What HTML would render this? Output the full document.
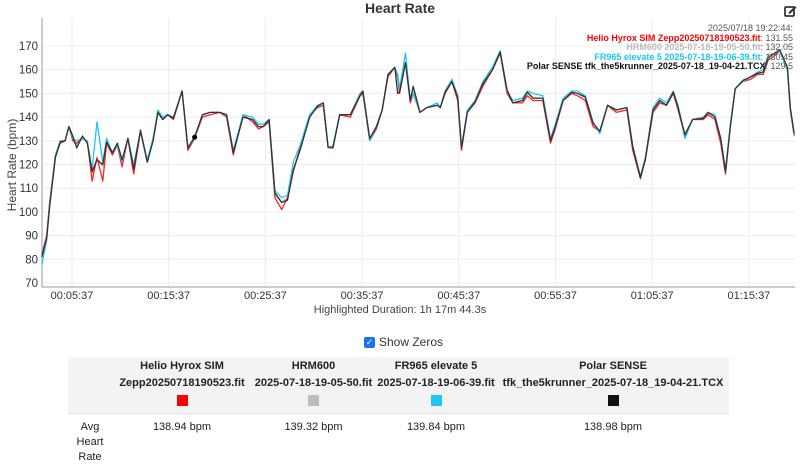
<!DOCTYPE html>
<html><head><meta charset="utf-8">
<style>
body{margin:0;width:800px;height:472px;background:#fff;font-family:"Liberation Sans",sans-serif;overflow:hidden;position:relative}
.abs{position:absolute}
table{border-collapse:collapse}
</style></head>
<body>
<svg class="abs" style="left:0;top:0" width="800" height="320">
<text x="400" y="13" text-anchor="middle" font-size="14" font-weight="bold" fill="#333">Heart Rate</text>
<g transform="translate(784,4)">
<rect x="1" y="3" width="9" height="9" fill="none" stroke="#333" stroke-width="1.8" rx="1"/>
<path d="M5 8 L11 2 L12.5 3.5 L6.5 9.5 L4.5 10 Z" fill="#333"/>
</g>
<g id="grid"></g>
<g id="axes"></g>
<g id="series"></g>
<text transform="translate(16,165) rotate(-90)" text-anchor="middle" font-size="12" fill="#444">Heart Rate (bpm)</text>
<text x="400" y="313" text-anchor="middle" font-size="11" fill="#444">Highlighted Duration: 1h 17m 44.3s</text>
<g font-size="9" text-anchor="end">
<text x="793" y="31" fill="#555">2025/07/18 19:22:44:</text>
<text x="793" y="41"><tspan fill="#f00" font-weight="bold">Helio Hyrox SIM Zepp20250718190523.fit</tspan><tspan fill="#555">: 131.55</tspan></text>
<text x="793" y="50"><tspan fill="#bbb" font-weight="bold">HRM600 2025-07-18-19-05-50.fit</tspan><tspan fill="#555">: 132.05</tspan></text>
<text x="793" y="60"><tspan fill="#1cc8f0" font-weight="bold">FR965 elevate 5 2025-07-18-19-06-39.fit</tspan><tspan fill="#555">: 130.45</tspan></text>
<text x="793" y="69"><tspan fill="#111" font-weight="bold">Polar SENSE tfk_the5krunner_2025-07-18_19-04-21.TCX</tspan><tspan fill="#555">: 129.5</tspan></text>
</g>
</svg>
<div class="abs" style="left:364px;top:335px;font-size:12px;color:#333;display:flex;align-items:center">
<span style="width:11px;height:11px;background:#1a73e8;border-radius:2px;display:inline-block;color:#fff;font-size:9px;line-height:11px;text-align:center;margin-right:4px">✓</span>Show Zeros</div>
<table class="abs" style="left:68px;top:357px;width:661px;font-size:11px;color:#222">
<tr style="background:#f3f3f3;height:55px;border-bottom:1px solid #e4e4e4;font-weight:bold;text-align:center;line-height:17px">
<td style="width:42px"></td>
<td style="width:138px">Helio Hyrox SIM<br>Zepp20250718190523.fit<br><span style="display:inline-block;width:11px;height:11px;background:#f00;margin-top:3px"></span></td>
<td style="width:121px">HRM600<br>2025-07-18-19-05-50.fit<br><span style="display:inline-block;width:11px;height:11px;background:#c0bac0;margin-top:3px"></span></td>
<td style="width:120px">FR965 elevate 5<br>2025-07-18-19-06-39.fit<br><span style="display:inline-block;width:11px;height:11px;background:#1cc8f0;margin-top:3px"></span></td>
<td>Polar SENSE<br>tfk_the5krunner_2025-07-18_19-04-21.TCX<br><span style="display:inline-block;width:11px;height:11px;background:#111;margin-top:3px"></span></td>
</tr>
<tr style="text-align:center;vertical-align:top;line-height:15px">
<td style="padding-top:6px">Avg<br>Heart<br>Rate</td>
<td style="padding-top:6px">138.94 bpm</td>
<td style="padding-top:6px">139.32 bpm</td>
<td style="padding-top:6px">139.84 bpm</td>
<td style="padding-top:6px">138.98 bpm</td>
</tr>
</table>
<script>
const T=[2.5,3.0,3.3,3.9,4.4,4.9,5.3,5.7,6.1,6.7,7.2,7.7,8.2,8.8,9.2,9.8,10.3,10.8,11.4,12.0,12.7,13.4,14.0,14.5,15.0,15.5,16.1,17.0,17.6,18.3,19.1,19.9,20.9,21.6,22.3,23.3,24.3,24.9,25.4,26.0,26.6,27.3,27.9,28.5,29.2,30.2,31.0,31.6,32.1,32.6,33.3,34.4,35.4,35.7,36.4,37.1,37.7,38.3,39.0,39.3,39.5,40.1,40.6,40.9,41.6,42.3,43.4,43.7,44.2,44.9,45.5,45.9,46.5,47.3,48.1,49.1,49.9,50.6,51.2,52.2,52.7,53.3,54.3,55.1,55.6,56.4,57.3,57.9,58.7,59.5,60.2,61.0,61.9,63.0,63.6,64.4,64.9,65.7,66.4,67.1,67.8,68.3,69.0,69.8,70.9,71.4,72.1,72.7,73.2,73.7,74.2,75.0,75.8,76.5,77.1,77.6,78.3,78.8,79.6,79.9,80.3];
const polar=[81,89,102,123,129.5,130,136,132,127,132,129,117,122,120,129.5,125,129,122,131,118,134.5,121,130,142,139,141,139.5,151,127,131.5,141,142,142,141,125,140,139,136,136,139,108,104,105,117.7,126,140,144.6,146,127.4,127,141,141,149,151,131,136,143,158,161,150,150.5,163,147,153,142,144,145,144,150.5,155,148.5,127,142,146.5,154,160,167.5,151.5,146,147,150.5,148,148,130,136,147,150.5,150,148.5,137.5,134,145,143,144,127.5,114.5,122,143,147,145,150.5,144,132.5,139,139.5,142,140,131,117,136,152,155.5,157,158.5,159,165,167,168.5,161,144,133];
const helio=[82,90,104,124,129,130,136,130,129,131,130,113,123,113,129,124,128,119,131,116,134,121,131,142,139,141,139,151,126,131,140,141,142,140,124,141,138,135,136,138,106,101,106,117,127,141,144,145,127,127,141,140,149,150,130,135,143,157,161,157,150,163,146,150,142,144,145,144,150,155,147,126,142,146,153,160,167,150,146,146,149,147,147,129,135,147,150,149,147,136,134,145,142,143,126,114,122,142,146,145,150,143,132,139,139,141,139,129,116,137,152,155,156,158,158,164,166,168,160,143,132];
const hrm=[81,89,103,123,129,130,136,131,128,132,129,116,122,119,129,124,129,121,131,118,134,121,130,142,139,141,139.5,151,127,132,141,142,142,141,125,140,139,136,136,139,107,104,106,118,126,140,145,146,127,127,141,141,149,151,131,136,143,158,161,156,151,163,147,152,142,144,145,144,151,155,148,127,142,146,154,160,167,151,146,147,150,148,148,130,136,147,150,150,148,137,134,145,143,144,127,115,122,143,147,145,150,144,133,139,139,142,140,131,117,136,152,155,157,158,159,165,167,168,161,144,133];
const fr965=[78,88,103,124,130,130,136,131,130,131,130,118,138,121,131,125,128,121,131,120,134,122,131,143,140,141,140,151,127,131,141,142,142,141,126,141,140,137,137,139,109,106,107,121,128,141,145,146,127,128,141,141,150,151,130,136,143,158,161,158,152,167,147,150,142,144,146,144,151,156,149,127,143,147,155,161,168,151,147,148,151,150,149,131,137,148,151,151,149,138,133,145,143,144,128,115,123,144,148,146,151,145,131,139,140,142,141,131,118,137,152,155,157,159,160,166,167,168,160,143,132];
const yTicks=[70,80,90,100,110,120,130,140,150,160,170];
const xTicks=[5.617,15.617,25.617,35.617,45.617,55.617,65.617,75.617];
const xLabels=["00:05:37","00:15:37","00:25:37","00:35:37","00:45:37","00:55:37","01:05:37","01:15:37"];
const L=42,R=795,TOP=18,BOT=287;
const xs=t=>72+(t-5.617)*9.67;
const ys=v=>46+(170-v)*2.37;
const NS="http://www.w3.org/2000/svg";
function mk(tag,attrs,parent){const e=document.createElementNS(NS,tag);for(const k in attrs)e.setAttribute(k,attrs[k]);parent.appendChild(e);return e;}
const grid=document.getElementById('grid'),axes=document.getElementById('axes'),ser=document.getElementById('series');
yTicks.forEach(v=>{
 const g=mk('line',{x1:L,x2:R,y1:ys(v),y2:ys(v),stroke:'#ececec'},grid);
 
 
 const t=mk('text',{x:L-4,y:ys(v)+4,'text-anchor':'end','font-size':'11.5',fill:'#333'},axes);
 t.textContent=v;
 
 
});
xTicks.forEach((m,i)=>{
 const g=mk('line',{x1:xs(m),x2:xs(m),y1:TOP,y2:BOT,stroke:'#ececec'},grid);
 
 
 const t=mk('text',{x:xs(m),y:BOT+12,'text-anchor':'middle','font-size':'11',fill:'#333'},axes);
 t.textContent=xLabels[i];
 
 
});
const ya=mk('line',{x1:L,x2:L,y1:TOP,y2:BOT,stroke:'#bbb','stroke-width':1.5},axes);


const xa=mk('line',{x1:L,x2:R,y1:BOT,y2:BOT,stroke:'#bbb','stroke-width':1.5},axes);


const defs=[[hrm,'#c8c4c8','line-hrm600'],[helio,'#f22','line-helio'],[fr965,'#1cc8f0','line-fr965'],[polar,'#333','line-polar']];
defs.forEach(([arr,col,name])=>{
 const n=Math.min(arr.length,T.length);
 let d='';for(let i=0;i<n;i++)d+=(i?'L':'M')+xs(T[i]).toFixed(1)+' '+ys(arr[i]).toFixed(1);
 const p=mk('path',{d:d,fill:'none',stroke:col,'stroke-width':1.3,'stroke-linejoin':'round'},ser);
 
 
});
const dot=mk('circle',{cx:xs(T[29]),cy:ys(polar[29]),r:2.5,fill:'#000'},ser);


</script>
</body></html>
